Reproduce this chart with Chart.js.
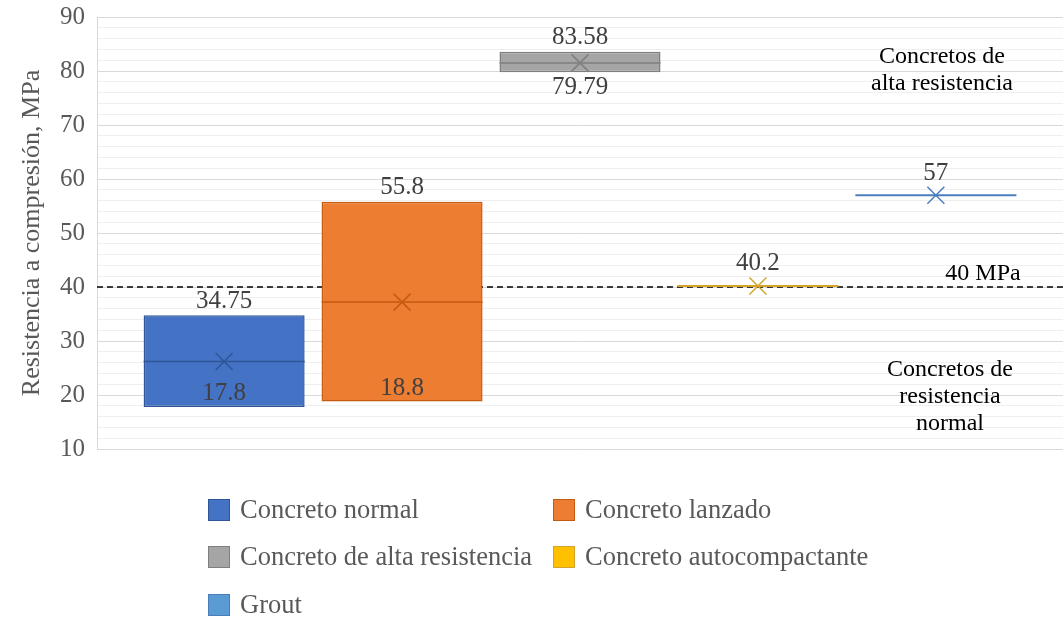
<!DOCTYPE html>
<html>
<head>
<meta charset="utf-8">
<script src="https://cdn.jsdelivr.net/npm/chart.js@4/dist/chart.umd.min.js"></script>
<style>
  html, body { margin: 0; padding: 0; background: #fff; }
  #wrap { width: 1063px; height: 619px; }
</style>
</head>
<body>
<div id="wrap"><canvas id="boxChart"></canvas></div>
<script>
// values
const seriesNames = ['Concreto normal', 'Concreto lanzado', 'Concreto de alta resistencia', 'Concreto autocompactante', 'Grout'];
const minValues = [17.8, 18.8, 79.79, 40.2, 57];
const maxValues = [34.75, 55.8, 83.58, 40.2, 57];
const medianValues = [26.2, 37.2, 81.5, 40.2, 57];
const meanValues = [26.2, 37.2, 81.5, 40.2, 57];
const yTicks = [10, 20, 30, 40, 50, 60, 70, 80, 90];
const limitValue = 40;

const fillColors = ['#4472C4', '#ED7D31', '#A5A5A5', '#FFC000', '#5B9BD5'];
const edgeColors = ['#2F5597', '#C55A11', '#7F7F7F', '#D4A32A', '#4A7EBB'];

const serif = "'Liberation Serif', 'DejaVu Serif', serif";

// median line, mean cross and value labels on top of every bar
const boxExtras = {
    id: 'boxExtras',
    beforeDatasetsDraw(chart) {
        const ctx = chart.ctx;
        const area = chart.chartArea;
        const y = chart.scales.y.getPixelForValue(limitValue);
        ctx.save();
        ctx.strokeStyle = '#000';
        ctx.lineWidth = 1.5;
        ctx.setLineDash([6, 4]);
        ctx.beginPath();
        ctx.moveTo(area.left, y);
        ctx.lineTo(area.right, y);
        ctx.stroke();
        ctx.restore();
    },
    afterDatasetsDraw(chart) {
        const ctx = chart.ctx;
        const yScale = chart.scales.y;
        ctx.save();
        chart.data.datasets.forEach((ds, i) => {
            const bar = chart.getDatasetMeta(i).data[0];
            const half = bar.width / 2;
            const isLine = minValues[i] === maxValues[i];
            const yMed = yScale.getPixelForValue(medianValues[i]);
            const yMean = yScale.getPixelForValue(meanValues[i]);
            const yTop = yScale.getPixelForValue(maxValues[i]);
            const yBot = yScale.getPixelForValue(minValues[i]);

            ctx.strokeStyle = edgeColors[i];
            ctx.lineWidth = isLine ? 2 : 1.5;
            ctx.beginPath();
            ctx.moveTo(bar.x - half, yMed);
            ctx.lineTo(bar.x + half, yMed);
            ctx.stroke();

            // mean marker
            const s = 8.5;
            ctx.lineWidth = 1.5;
            ctx.beginPath();
            ctx.moveTo(bar.x - s, yMean - s);
            ctx.lineTo(bar.x + s, yMean + s);
            ctx.moveTo(bar.x + s, yMean - s);
            ctx.lineTo(bar.x - s, yMean + s);
            ctx.stroke();

            // labels
            ctx.fillStyle = '#404040';
            ctx.font = '25px ' + serif;
            ctx.textAlign = 'center';
            ctx.textBaseline = 'middle';
            ctx.fillText(String(maxValues[i]), bar.x, yTop - (isLine ? 22 : 14));
            if (!isLine) {
                const inside = (yBot - yTop) > 60;
                ctx.fillText(String(minValues[i]), bar.x, inside ? yBot - 13 : yBot + 15);
            }
        });
        ctx.restore();
    },
    afterDraw(chart) {
        const ctx = chart.ctx;
        const yScale = chart.scales.y;
        const area = chart.chartArea;
        ctx.save();
        ctx.fillStyle = '#000';
        ctx.font = '24px ' + serif;
        ctx.textAlign = 'center';
        ctx.textBaseline = 'middle';
        const notes = [
            { text: 'Concretos de', v: 82.6, dx: -121 },
            { text: 'alta resistencia', v: 77.6, dx: -121 },
            { text: '40 MPa', v: 42.4, dx: -80 },
            { text: 'Concretos de', v: 24.6, dx: -113 },
            { text: 'resistencia', v: 19.6, dx: -113 },
            { text: 'normal', v: 14.6, dx: -113 }
        ];
        notes.forEach(n => ctx.fillText(n.text, area.right + n.dx, yScale.getPixelForValue(n.v)));

        // legend in two columns
        const cols = [208, 553];
        const rows = [510, 557, 605];
        ctx.font = '26.5px ' + serif;
        ctx.textAlign = 'left';
        chart.data.datasets.forEach((ds, i) => {
            const x = cols[i % 2];
            const y = rows[Math.floor(i / 2)];
            ctx.fillStyle = fillColors[i];
            ctx.fillRect(x, y - 11, 22, 22);
            ctx.strokeStyle = edgeColors[i];
            ctx.lineWidth = 1;
            ctx.strokeRect(x + 0.5, y - 10.5, 21, 21);
            ctx.fillStyle = '#595959';
            ctx.fillText(ds.label, x + 32, y + 1);
        });
        ctx.restore();
    }
};

const datasets = seriesNames.map((name, i) => ({
    label: name,
    data: [[minValues[i], maxValues[i]]],
    backgroundColor: fillColors[i],
    borderColor: edgeColors[i],
    borderWidth: minValues[i] === maxValues[i] ? 0 : 1.5,
    borderSkipped: false,
    categoryPercentage: 0.921,
    barPercentage: 0.905
}));

const ctx = document.getElementById('boxChart').getContext('2d');
new Chart(ctx, {
    type: 'bar',
    data: {
        labels: [''],
        datasets: datasets
    },
    options: {
        responsive: true,
        maintainAspectRatio: false,
        animation: false,
        layout: { padding: { top: 17, right: 0, bottom: 170, left: 0 } },
        plugins: {
            legend: { display: false },
            tooltip: { enabled: false }
        },
        scales: {
            x: { display: false },
            y: {
                min: 10,
                max: 90,
                afterFit(scale) {
                    scale.width = 97;
                    scale.paddingTop = 0;
                    scale.paddingBottom = 0;
                },
                border: { color: '#D9D9D9' },
                grid: {
                    drawTicks: false,
                    color: c => (c.tick && c.tick.value % 10 === 0) ? '#D9D9D9' : '#EFEFEF'
                },
                ticks: {
                    stepSize: 2,
                    autoSkip: false,
                    padding: 12,
                    color: '#595959',
                    font: { family: serif, size: 25 },
                    callback: v => yTicks.includes(v) ? v : ''
                },
                title: {
                    display: true,
                    text: 'Resistencia a compresión, MPa',
                    color: '#595959',
                    font: { family: serif, size: 26 },
                    padding: { top: 17, bottom: 0 }
                }
            }
        }
    },
    plugins: [boxExtras]
});
</script>
</body>
</html>
